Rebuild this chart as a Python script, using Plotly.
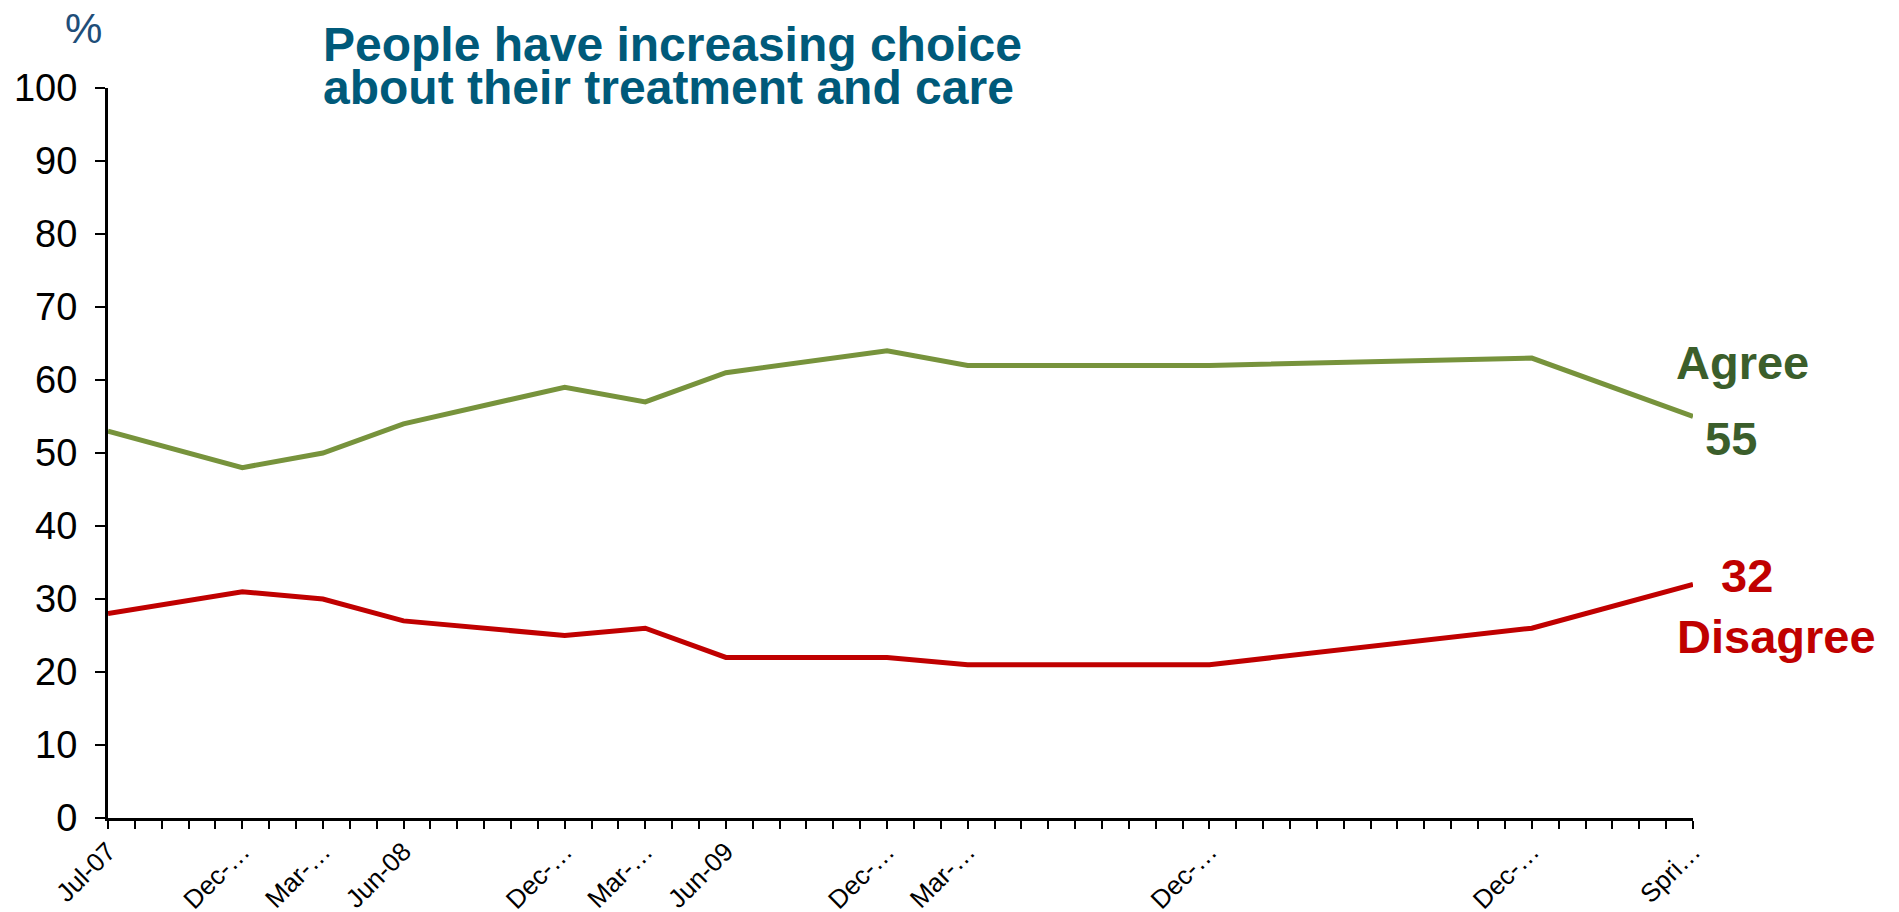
import plotly.graph_objects as go

# Survey waves and the labels shown under the axis
periods = ["2007-07", "2007-12", "2008-03", "2008-06", "2008-12", "2009-03",
           "2009-06", "2009-12", "2010-03", "2010-12", "2011-12", "2012-06"]
tick_labels = ["Jul-07", "Dec-…", "Mar-…", "Jun-08", "Dec-…", "Mar-…",
               "Jun-09", "Dec-…", "Mar-…", "Dec-…", "Dec-…", "Spri…"]

# Share of respondents (%)
agree = [53, 48, 50, 54, 59, 57, 61, 64, 62, 62, 63, 55]
disagree = [28, 31, 30, 27, 25, 26, 22, 22, 21, 21, 26, 32]

FONT = "Liberation Sans, Arial, sans-serif"
AGREE_LINE = "#77933C"
AGREE_TEXT = "#3B5E2B"
DISAGREE = "#C00000"
TITLE = "#005A7A"

PLOT_H = 730  # plot area height in px, used to convert pixel offsets to paper units


def month_index(p, start=periods[0]):
    y, m = map(int, p.split("-"))
    y0, m0 = map(int, start.split("-"))
    return (y - y0) * 12 + (m - m0)


x = [month_index(p) for p in periods]

fig = go.Figure()
fig.add_trace(go.Scatter(x=x, y=agree, mode="lines", name="Agree",
                         line=dict(color=AGREE_LINE, width=5)))
fig.add_trace(go.Scatter(x=x, y=disagree, mode="lines", name="Disagree",
                         line=dict(color=DISAGREE, width=5)))

# End-of-line labels
last = x[-1]
fig.add_annotation(x=last, y=agree[-1], text="<b>Agree</b>", showarrow=False,
                   xanchor="center", yanchor="middle", xshift=49, yshift=54,
                   font=dict(family=FONT, size=47, color=AGREE_TEXT))
fig.add_annotation(x=last, y=agree[-1], text=f"<b>{agree[-1]}</b>", showarrow=False,
                   xanchor="center", yanchor="middle", xshift=38, yshift=-22,
                   font=dict(family=FONT, size=47, color=AGREE_TEXT))
fig.add_annotation(x=last, y=disagree[-1], text=f"<b>{disagree[-1]}</b>", showarrow=False,
                   xanchor="center", yanchor="middle", xshift=54, yshift=9,
                   font=dict(family=FONT, size=47, color=DISAGREE))
fig.add_annotation(x=last, y=disagree[-1], text="<b>Disagree</b>", showarrow=False,
                   xanchor="center", yanchor="middle", xshift=83, yshift=-52,
                   font=dict(family=FONT, size=47, color=DISAGREE))

# Title, two tightly spaced lines
fig.add_annotation(xref="paper", yref="paper", x=0.1345, y=1.0593,
                   text="<b>People have increasing choice</b>", showarrow=False,
                   xanchor="left", yanchor="middle",
                   font=dict(family=FONT, size=48, color=TITLE))
fig.add_annotation(xref="paper", yref="paper", x=0.1345, y=1.0593 - 43 / PLOT_H,
                   text="<b>about their treatment and care</b>", showarrow=False,
                   xanchor="left", yanchor="middle",
                   font=dict(family=FONT, size=48, color=TITLE))

# Unit label above the value axis
fig.add_annotation(xref="paper", yref="paper", x=-0.0152, y=1.081, text="%",
                   showarrow=False, xanchor="center", yanchor="middle",
                   font=dict(family=FONT, size=42, color="#1F4E79"))

fig.update_xaxes(
    range=[0, month_index(periods[-1])],
    tickmode="array", tickvals=x, ticktext=tick_labels, tickangle=-45,
    ticks="outside", ticklen=8, tickwidth=2, tickcolor="black",
    ticklabelstandoff=-3,
    minor=dict(dtick=1, tick0=0, ticks="outside", ticklen=8, tickwidth=2,
               tickcolor="black"),
    showline=True, linewidth=3, linecolor="black",
    showgrid=False, zeroline=False, automargin=False,
    tickfont=dict(family=FONT, size=26, color="black"),
)
fig.update_yaxes(
    range=[0, 100], dtick=10, tick0=0,
    ticks="outside", ticklen=10, tickwidth=2, tickcolor="black",
    ticklabelstandoff=10,
    showline=True, linewidth=3, linecolor="black",
    showgrid=False, zeroline=False, automargin=False,
    tickfont=dict(family=FONT, size=38, color="black"),
)

fig.update_layout(
    width=1899, height=912,
    margin=dict(l=108, r=206, t=88, b=94),
    paper_bgcolor="white", plot_bgcolor="white",
    showlegend=False,
)

fig.write_html("out.html")
